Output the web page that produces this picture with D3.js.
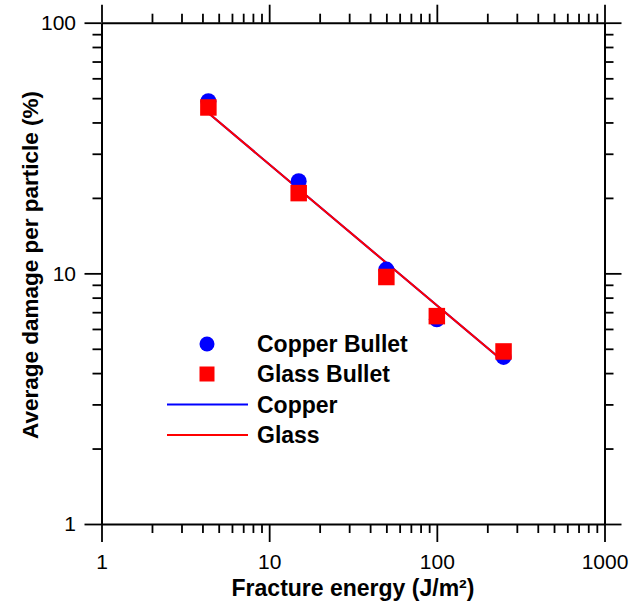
<!DOCTYPE html>
<html>
<head>
<meta charset="utf-8">
<script src="https://cdn.jsdelivr.net/npm/d3@7"></script>
<style>
  body { margin: 0; background: #fff; }
  svg { display: block; font-family: "Liberation Sans", Arial, sans-serif; }
  .axis path { stroke: #000; stroke-width: 2; }
  .axis line { stroke: #000; stroke-width: 1.8; }
  .axis text { font-size: 21px; fill: #000; }
</style>
</head>
<body>
<svg width="629" height="607"></svg>
<script>
"use strict";

// data
var energy = [4.34, 15, 50, 100, 250];
var copperDamage = [48.6, 23.3, 10.35, 6.56, 4.64];
var glassDamage = [45.9, 20.9, 9.67, 6.75, 4.88];

// fitted lines (end points)
var fitEnergy = [4.34, 250];
var copperFit = [43.6, 4.45];
var glassFit = [43.6, 4.45];

var xMajor = [1, 10, 100, 1000];
var yMajor = [1, 10, 100];
var legendLabels = ["Copper Bullet", "Glass Bullet", "Copper", "Glass"];

var svg = d3.select("svg"),
  margin = {top: 22.7, left: 101.5},
  width = 503,
  height = 501.3,
  g = svg.append("g").attr("transform", "translate(" + margin.left + "," + margin.top + ")"),
  x = d3.scaleLog().domain([1, 1000]).range([0, width]),
  y = d3.scaleLog().domain([1, 100]).range([height, 0]);

// all decade ticks incl. minors
function logTicks(lo, hi) {
  var t = [];
  for (var d = lo; d < hi; d *= 10) {
    for (var k = 1; k < 10; k++) t.push(d * k);
  }
  t.push(hi);
  return t;
}
var xTicks = logTicks(1, 1000),
  yTicks = logTicks(1, 100);

function isMajor(v) { return Math.abs(Math.log10(v) - Math.round(Math.log10(v))) < 1e-9; }
var fmt = function(v) { return isMajor(v) ? d3.format("d")(v) : ""; };

function styleTicks(sel, major, minor) {
  sel.selectAll(".tick line").each(function(d) {
    var l = d3.select(this);
    var len = isMajor(d) ? major : minor;
    if (l.attr("x2") !== null && +l.attr("x2") !== 0) l.attr("x2", +l.attr("x2") > 0 ? len : -len);
    if (l.attr("y2") !== null && +l.attr("y2") !== 0) l.attr("y2", +l.attr("y2") > 0 ? len : -len);
  });
}

g.append("g").attr("class", "axis")
  .attr("transform", "translate(0," + height + ")")
  .call(d3.axisBottom(x).tickValues(xTicks).tickFormat(fmt).tickSize(9).tickSizeOuter(0).tickPadding(21))
  .call(styleTicks, 18, 9);

g.append("g").attr("class", "axis")
  .call(d3.axisTop(x).tickValues(xTicks).tickFormat("").tickSize(9).tickSizeOuter(0))
  .call(styleTicks, 18, 9);

g.append("g").attr("class", "axis")
  .call(d3.axisLeft(y).tickValues(yTicks).tickFormat(fmt).tickSize(9).tickSizeOuter(0).tickPadding(16.5))
  .call(styleTicks, 17, 9);

g.append("g").attr("class", "axis")
  .attr("transform", "translate(" + width + ",0)")
  .call(d3.axisRight(y).tickValues(yTicks).tickFormat("").tickSize(9).tickSizeOuter(0))
  .call(styleTicks, 17, 9);

// axis titles
svg.append("text")
  .attr("x", margin.left + width / 2)
  .attr("y", 596)
  .attr("text-anchor", "middle")
  .attr("font-size", 23)
  .attr("font-weight", "bold")
  .text("Fracture energy (J/m\u00b2)");

svg.append("text")
  .attr("transform", "translate(38,265) rotate(-90)")
  .attr("text-anchor", "middle")
  .attr("font-size", 22.5)
  .attr("font-weight", "bold")
  .text("Average damage per particle (%)");

// fit lines
var line = d3.line()
  .x(function(d) { return x(d[0]); })
  .y(function(d) { return y(d[1]); });

g.append("path")
  .datum(d3.zip(fitEnergy, copperFit))
  .attr("fill", "none")
  .attr("stroke", "#0000ff")
  .attr("stroke-width", 2)
  .attr("d", line);

g.append("path")
  .datum(d3.zip(fitEnergy, glassFit))
  .attr("fill", "none")
  .attr("stroke", "#ff0000")
  .attr("stroke-width", 2)
  .attr("d", line);

// points
g.selectAll(".copper")
  .data(d3.zip(energy, copperDamage))
  .enter().append("circle")
  .attr("class", "copper")
  .attr("cx", function(d) { return x(d[0]); })
  .attr("cy", function(d) { return y(d[1]); })
  .attr("r", 8)
  .attr("fill", "#0000ff");

var sq = 16.5;
g.selectAll(".glass")
  .data(d3.zip(energy, glassDamage))
  .enter().append("rect")
  .attr("class", "glass")
  .attr("x", function(d) { return x(d[0]) - sq / 2; })
  .attr("y", function(d) { return y(d[1]) - sq / 2; })
  .attr("width", sq)
  .attr("height", sq)
  .attr("fill", "#ff0000");

// legend
var legend = svg.append("g"),
  rowY = [344, 374, 404.5, 435];

legend.append("circle").attr("cx", 207).attr("cy", rowY[0]).attr("r", 7.5).attr("fill", "#0000ff");
legend.append("rect").attr("x", 199.5).attr("y", rowY[1] - 7.5).attr("width", 15).attr("height", 15).attr("fill", "#ff0000");
legend.append("line").attr("x1", 167).attr("x2", 248).attr("y1", rowY[2]).attr("y2", rowY[2])
  .attr("stroke", "#0000ff").attr("stroke-width", 2);
legend.append("line").attr("x1", 167).attr("x2", 248).attr("y1", rowY[3]).attr("y2", rowY[3])
  .attr("stroke", "#ff0000").attr("stroke-width", 2);

legend.selectAll("text")
  .data(legendLabels)
  .enter().append("text")
  .attr("x", 257)
  .attr("y", function(d, i) { return rowY[i]; })
  .attr("dy", "0.36em")
  .attr("font-size", 23)
  .attr("font-weight", "bold")
  .text(function(d) { return d; });
</script>
</body>
</html>
